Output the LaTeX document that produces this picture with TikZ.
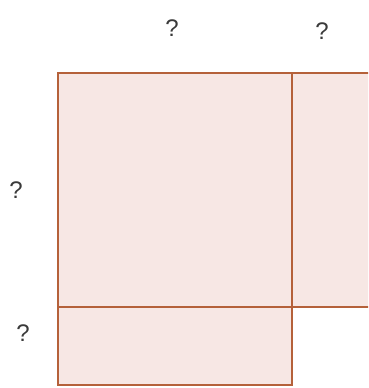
\documentclass[tikz,border=0pt]{standalone}
\usepackage{fontspec}
\setmainfont{Liberation Sans}
\definecolor{edge}{HTML}{B5613A}
\definecolor{pane}{HTML}{F7E7E4}
\definecolor{qcol}{HTML}{3A3A3A}
\begin{document}
\begin{tikzpicture}[x=1pt,y=-1pt,
  part/.style={draw=edge,fill=pane,line width=2.2pt},
  qlabel/.style={text=qcol,font=\fontsize{24}{28}\selectfont,inner sep=0pt}]
\useasboundingbox (0,0) rectangle (368,388);
\begin{scope}
\clip (0,0) rectangle (368,388);
\draw[part] (292,73) rectangle (375,307);
\end{scope}
\draw[part] (58,73) rectangle (292,307);
\draw[part] (58,307) rectangle (292,385);
\node[qlabel] (qa) at (172,28) {?};
\node[qlabel] (qb) at (322,31) {?};
\node[qlabel] (qc) at (16,190) {?};
\node[qlabel] (qd) at (23,333) {?};
\end{tikzpicture}
\end{document}
